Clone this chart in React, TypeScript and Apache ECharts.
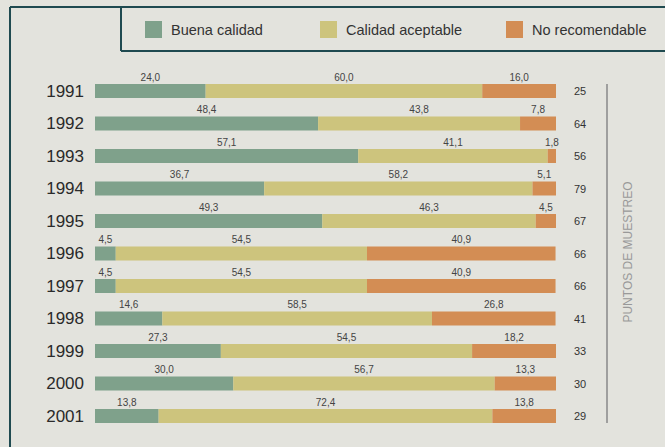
import React, { useEffect, useRef } from "react";
import * as echarts from "echarts";

const years = ["1991", "1992", "1993", "1994", "1995", "1996", "1997", "1998", "1999", "2000", "2001"];
const buena = [24.0, 48.4, 57.1, 36.7, 49.3, 4.5, 4.5, 14.6, 27.3, 30.0, 13.8];
const aceptable = [60.0, 43.8, 41.1, 58.2, 46.3, 54.5, 54.5, 58.5, 54.5, 56.7, 72.4];
const noRecomendable = [16.0, 7.8, 1.8, 5.1, 4.5, 40.9, 40.9, 26.8, 18.2, 13.3, 13.8];
const puntos = ["25", "64", "56", "79", "67", "66", "66", "41", "33", "30", "29"];
const seriesNames = ["Buena calidad", "Calidad aceptable", "No recomendable"];
const colors = ["#7fa18b", "#cdc47d", "#d38d54"];

const BORDER = "#1f4a50";
const SANS = "'Liberation Sans', Arial, sans-serif";

export default function App() {
  const ref = useRef<HTMLDivElement>(null);
  useEffect(() => {
    if (!ref.current) return;
    const chart = echarts.init(ref.current, undefined, { renderer: "svg" });
    const fmt = (p: any) => Number(p.value).toFixed(1).replace(".", ",");
    const mkSeries = (name: string, data: number[], color: string) => ({
      name,
      type: "bar",
      stack: "total",
      data,
      barWidth: 14,
      itemStyle: { color },
      label: {
        show: true,
        position: "top",
        distance: 2,
        formatter: fmt,
        fontSize: 10,
        color: "#444",
        fontFamily: SANS,
      },
    });
    const legendLefts = [145, 320, 506];
    chart.setOption({
      animation: false,
      backgroundColor: "#e3e3dd",
      legend: seriesNames.map((n, i) => ({
        data: [n],
        left: legendLefts[i],
        top: 21,
        padding: 0,
        itemWidth: 17,
        itemHeight: 17,
        icon: "rect",
        selectedMode: false,
        textStyle: { fontSize: 14.5, color: "#333", fontFamily: SANS, padding: [0, 0, 0, 4] },
      })),
      grid: { left: 95, right: 109, top: 74.75, height: 357.5 },
      xAxis: { type: "value", min: 0, max: 100, show: false },
      yAxis: [
        {
          type: "category",
          data: years,
          inverse: true,
          axisLine: { show: false },
          axisTick: { show: false },
          axisLabel: { margin: 11, fontSize: 17, color: "#2a2a2a", fontFamily: SANS },
        },
        {
          type: "category",
          data: puntos,
          inverse: true,
          position: "right",
          axisLine: { show: false },
          axisTick: { show: false },
          axisLabel: { margin: 18, fontSize: 11, color: "#333", fontFamily: SANS, align: "left" },
        },
      ],
      series: [
        mkSeries(seriesNames[0], buena, colors[0]),
        mkSeries(seriesNames[1], aceptable, colors[1]),
        mkSeries(seriesNames[2], noRecomendable, colors[2]),
      ],
      graphic: [
        { type: "line", shape: { x1: 10, y1: 7, x2: 10, y2: 447 }, style: { stroke: BORDER, lineWidth: 2 } },
        { type: "line", shape: { x1: 10, y1: 7, x2: 665, y2: 7 }, style: { stroke: BORDER, lineWidth: 2 } },
        { type: "line", shape: { x1: 121, y1: 7, x2: 121, y2: 51 }, style: { stroke: BORDER, lineWidth: 2 } },
        { type: "line", shape: { x1: 121, y1: 51, x2: 665, y2: 51 }, style: { stroke: BORDER, lineWidth: 2 } },
        { type: "line", shape: { x1: 607, y1: 84, x2: 607, y2: 423 }, style: { stroke: "#888", lineWidth: 1.5 } },
        {
          type: "text",
          x: 628,
          y: 252,
          rotation: Math.PI / 2,
          style: {
            text: "PUNTOS DE MUESTREO",
            fontSize: 12,
            fill: "#999",
            fontFamily: SANS,
            align: "center",
            verticalAlign: "middle",
          },
        },
      ],
    });
    return () => chart.dispose();
  }, []);
  return <div ref={ref} style={{ position: "fixed", left: 0, top: 0, width: 665, height: 447 }} />;
}
